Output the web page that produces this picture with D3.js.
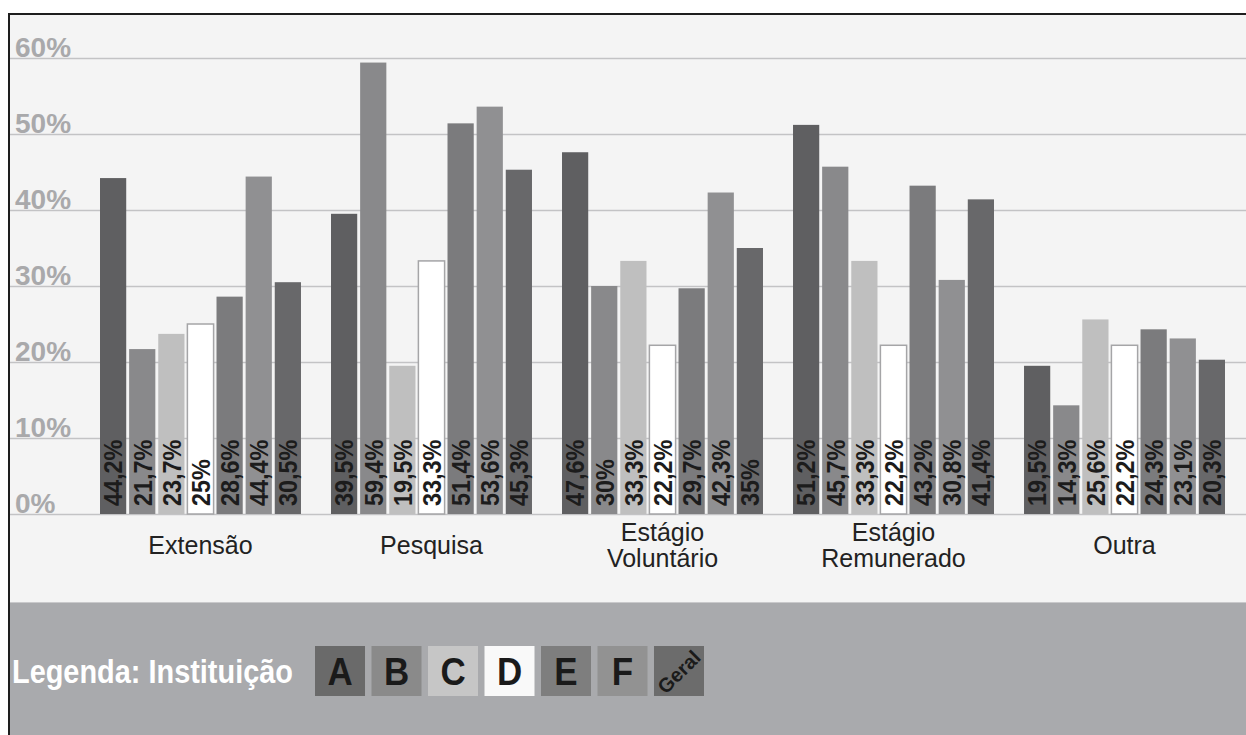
<!DOCTYPE html>
<html>
<head>
<meta charset="utf-8">
<script src="https://cdn.jsdelivr.net/npm/d3@7"></script>
<style>
  html, body { margin: 0; padding: 0; background: #ffffff; }
  svg { display: block; font-family: "Liberation Sans", Arial, sans-serif; }
</style>
</head>
<body>
<svg id="chart" width="1246" height="735"></svg>
<script>
// ---- data ----
const categories = ["Extensão", "Pesquisa", "Estágio Voluntário", "Estágio Remunerado", "Outra"];
const seriesNames = ["A", "B", "C", "D", "E", "F", "Geral"];
const valuesA     = [44.2, 39.5, 47.6, 51.2, 19.5];
const valuesB     = [21.7, 59.4, 30.0, 45.7, 14.3];
const valuesC     = [23.7, 19.5, 33.3, 33.3, 25.6];
const valuesD     = [25.0, 33.3, 22.2, 22.2, 22.2];
const valuesE     = [28.6, 51.4, 29.7, 43.2, 24.3];
const valuesF     = [44.4, 53.6, 42.3, 30.8, 23.1];
const valuesGeral = [30.5, 45.3, 35.0, 41.4, 20.3];
const yTicks = [0, 10, 20, 30, 40, 50, 60];
const legendTitle = "Legenda: Instituição";

const seriesValues = [valuesA, valuesB, valuesC, valuesD, valuesE, valuesF, valuesGeral];
const colors = ["#5f5f61", "#89898b", "#bfbfbf", "#ffffff", "#7b7b7d", "#909092", "#68686a"];
const legendColors = ["#6a6a6a", "#8a8a8a", "#c6c6c6", "#f9f9f9", "#7e7e7e", "#929292", "#6c6c6c"];

const rows = [];
categories.forEach((c, ci) => {
  seriesNames.forEach((s, si) => {
    rows.push({ cat: c, series: s, si: si, value: seriesValues[si][ci] });
  });
});

const svg = d3.select("#chart");
const W = 1246, H = 735;

// backgrounds
svg.append("rect").attr("x", 0).attr("y", 0).attr("width", W).attr("height", H).attr("fill", "#ffffff");
svg.append("rect").attr("x", 9).attr("y", 14).attr("width", W - 9).attr("height", 602 - 14).attr("fill", "#f4f4f4");
svg.append("rect").attr("x", 9).attr("y", 602).attr("width", W - 9).attr("height", H - 602).attr("fill", "#a9aaad");
svg.append("line").attr("x1", 9).attr("x2", W).attr("y1", 602.5).attr("y2", 602.5)
  .attr("stroke", "#c9c9cb").attr("stroke-width", 1);

// scales
const y = d3.scaleLinear().domain([0, 60]).range([514, 58]);
const x0 = d3.scaleBand().domain(categories).range([100, 1225]).paddingInner(0.13).paddingOuter(0);
const x1 = d3.scaleBand().domain(seriesNames).range([0, x0.bandwidth()]).paddingInner(0.1).paddingOuter(0);

// gridlines + tick labels via axis
const axis = d3.axisRight(y)
  .tickValues(yTicks)
  .tickSize(W - 9)
  .tickFormat(d => d + "%");
const gAxis = svg.append("g").attr("transform", "translate(9,0)").call(axis);
gAxis.select(".domain").remove();
gAxis.selectAll(".tick line").attr("stroke", "#c3c3c5").attr("stroke-width", 1.6);
gAxis.selectAll(".tick text")
  .attr("x", 6).attr("dy", -2).attr("y", 0)
  .attr("text-anchor", "start")
  .attr("dominant-baseline", "auto")
  .attr("fill", "#a9a9ab")
  .attr("font-size", 28)
  .attr("font-weight", "bold")
  .attr("font-family", "'Liberation Sans', Arial, sans-serif");

// bars
const gBars = svg.append("g");
gBars.selectAll("rect.bar")
  .data(rows)
  .join("rect")
  .attr("class", "bar")
  .attr("x", d => x0(d.cat) + x1(d.series))
  .attr("y", d => y(d.value))
  .attr("width", x1.bandwidth())
  .attr("height", d => y(0) - y(d.value))
  .attr("fill", d => colors[d.si])
  .attr("stroke", d => d.series === "D" ? "#a5a5a7" : "none")
  .attr("stroke-width", 1.5);

// value labels (rotated)
const fmt = v => String(+v.toFixed(1)).replace(".", ",") + "%";
const labelSize = 26;
gBars.selectAll("text.val")
  .data(rows)
  .join("text")
  .attr("class", "val")
  .attr("transform", d => {
    const cx = x0(d.cat) + x1(d.series) + x1.bandwidth() / 2;
    return `translate(${cx},${y(0) - 8}) rotate(-90) scale(0.9,1)`;
  })
  .attr("x", 0)
  .attr("y", labelSize * 0.716 / 2)
  .attr("text-anchor", "start")
  .attr("font-size", labelSize)
  .attr("font-weight", "bold")
  .attr("fill", "#1c1c1c")
  .text(d => fmt(d.value));

// category labels
const gCat = svg.append("g");
categories.forEach(c => {
  const parts = c.split(" ");
  const cx = x0(c) + x0.bandwidth() / 2;
  if (parts.length === 1) {
    gCat.append("text").attr("text-anchor", "middle").attr("font-size", 25).attr("fill", "#222222")
      .attr("x", cx).attr("y", 554).text(parts[0]);
  } else {
    gCat.append("text").attr("text-anchor", "middle").attr("font-size", 25).attr("fill", "#222222")
      .attr("x", cx).attr("y", 541).text(parts[0]);
    gCat.append("text").attr("text-anchor", "middle").attr("font-size", 25).attr("fill", "#222222")
      .attr("x", cx).attr("y", 567).text(parts[1]);
  }
});

// frame borders
svg.append("line").attr("x1", 9).attr("x2", W).attr("y1", 14).attr("y2", 14)
  .attr("stroke", "#1e1e1e").attr("stroke-width", 2);
svg.append("line").attr("x1", 9).attr("x2", 9).attr("y1", 13).attr("y2", H)
  .attr("stroke", "#1e1e1e").attr("stroke-width", 2);

// legend
svg.append("text")
  .attr("transform", "translate(12,683) scale(0.85,1)")
  .attr("x", 0).attr("y", 0)
  .attr("font-size", 34)
  .attr("font-weight", "bold")
  .attr("fill", "#ffffff")
  .text(legendTitle);

const lx = d3.scaleBand().domain(seriesNames).range([315, 704]).paddingInner(0.115).paddingOuter(0);
const gLeg = svg.append("g");
gLeg.selectAll("rect")
  .data(seriesNames)
  .join("rect")
  .attr("x", d => lx(d))
  .attr("y", 646)
  .attr("width", lx.bandwidth())
  .attr("height", 50)
  .attr("fill", (d, i) => legendColors[i]);

gLeg.selectAll("text")
  .data(seriesNames)
  .join("text")
  .attr("transform", d => {
    const cx = lx(d) + lx.bandwidth() / 2;
    if (d === "Geral") return `translate(${cx},${672}) rotate(-45)`;
    return `translate(${cx},685) scale(0.92,1)`;
  })
  .attr("text-anchor", "middle")
  .attr("dy", d => d === "Geral" ? "0.35em" : 0)
  .attr("font-size", d => d === "Geral" ? 20 : 38)
  .attr("font-weight", "bold")
  .attr("fill", "#1a1a1a")
  .text(d => d);
</script>
</body>
</html>
